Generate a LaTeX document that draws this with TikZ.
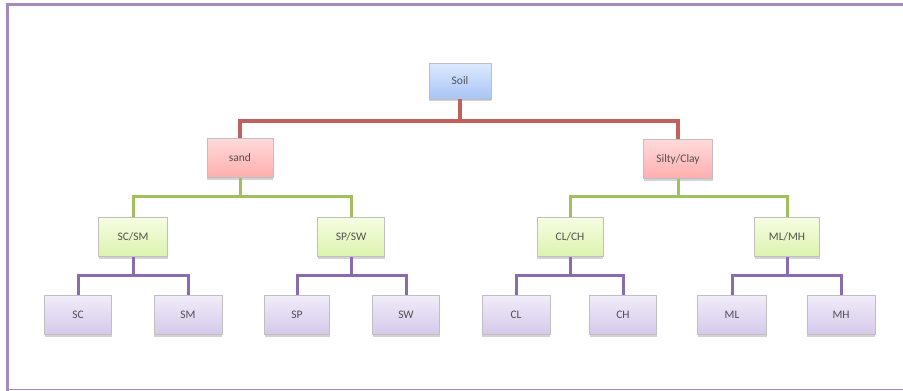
\documentclass[tikz,border=0pt]{standalone}
\usepackage{fontspec}
\setmainfont{Carlito}
\usetikzlibrary{shadows}
\definecolor{frameC}{HTML}{A38BBD}
\definecolor{redL}{HTML}{C4605C}
\definecolor{greenL}{HTML}{A0C05E}
\definecolor{purpleL}{HTML}{8A6BAE}
\definecolor{txt}{HTML}{505050}
\definecolor{blueT}{HTML}{DDE9FF}
\definecolor{blueB}{HTML}{A8C4F6}
\definecolor{redT}{HTML}{FFDADA}
\definecolor{redB}{HTML}{FFAEAE}
\definecolor{greenT}{HTML}{F6FDE2}
\definecolor{greenB}{HTML}{DCF3AE}
\definecolor{purpT}{HTML}{F1ECF9}
\definecolor{purpB}{HTML}{D5C9EA}
\tikzset{
  x=1pt, y=-1pt,
  box/.style={minimum width=66pt, minimum height=39pt, inner sep=1pt,
    font=\fontsize{11.5}{12}\selectfont, text=txt, draw=black!25, line width=0.8pt,
    drop shadow={shadow xshift=0pt, shadow yshift=-2pt, opacity=0.35}},
  bluebox/.style={box, top color=blueT, bottom color=blueB},
  redbox/.style={box, top color=redT, bottom color=redB},
  greenbox/.style={box, top color=greenT, bottom color=greenB},
  purplebox/.style={box, top color=purpT, bottom color=purpB},
  redline/.style={draw=redL, line width=3.5pt},
  greenline/.style={draw=greenL, line width=3pt},
  purpleline/.style={draw=purpleL, line width=3pt},
}
\begin{document}
\begin{tikzpicture}
\useasboundingbox (0,0) rectangle (903,391);
% frame
\draw[frameC, line width=3pt] (7.5,391) -- (7.5,4.5) -- (903,4.5);
\draw[frameC, line width=1.5pt] (6,389.5) -- (903,389.5);
\coordinate (r) at (460,121);
\coordinate (gL) at (240,196);
\coordinate (gR) at (678,196);
\coordinate (pA) at (133,275);
\coordinate (pB) at (351,275);
\coordinate (pC) at (570,275);
\coordinate (pD) at (787,275);
% nodes
\node[bluebox, minimum width=62pt, minimum height=36pt] (soil) at (460,81) {Soil};
\node[redbox] (sand) at (240,158) {sand};
\node[redbox, minimum width=69pt] (silty) at (678,159) {Silty/Clay};
\node[greenbox, minimum width=69pt] (scsm) at (133,237) {SC/SM};
\node[greenbox, minimum width=67pt] (spsw) at (351,237) {SP/SW};
\node[greenbox] (clch) at (570,237) {CL/CH};
\node[greenbox, minimum width=65pt] (mlmh) at (787,237) {ML/MH};
\node[purplebox, minimum width=67pt] (sc) at (78,315) {SC};
\node[purplebox, minimum width=68pt] (sm) at (188,315) {SM};
\node[purplebox, minimum width=65pt] (sp) at (297,315) {SP};
\node[purplebox, minimum width=67pt] (sw) at (406,315) {SW};
\node[purplebox, minimum width=68pt] (cl) at (516,315) {CL};
\node[purplebox, minimum width=67pt] (ch) at (623,315) {CH};
\node[purplebox, minimum width=69pt] (ml) at (732,315) {ML};
\node[purplebox, minimum width=68pt] (mh) at (841,315) {MH};
% connectors
\path[redline] (soil.south) -- (r) (sand.north) |- (r) -| (silty.north);
\path[greenline] (sand.south) -- (gL) (scsm.north) |- (gL) -| (spsw.north);
\path[greenline] (silty.south) -- (gR) (clch.north) |- (gR) -| (mlmh.north);
\path[purpleline] (scsm.south) -- (pA) (sc.north) |- (pA) -| (sm.north);
\path[purpleline] (spsw.south) -- (pB) (sp.north) |- (pB) -| (sw.north);
\path[purpleline] (clch.south) -- (pC) (cl.north) |- (pC) -| (ch.north);
\path[purpleline] (mlmh.south) -- (pD) (ml.north) |- (pD) -| (mh.north);
\end{tikzpicture}
\end{document}
